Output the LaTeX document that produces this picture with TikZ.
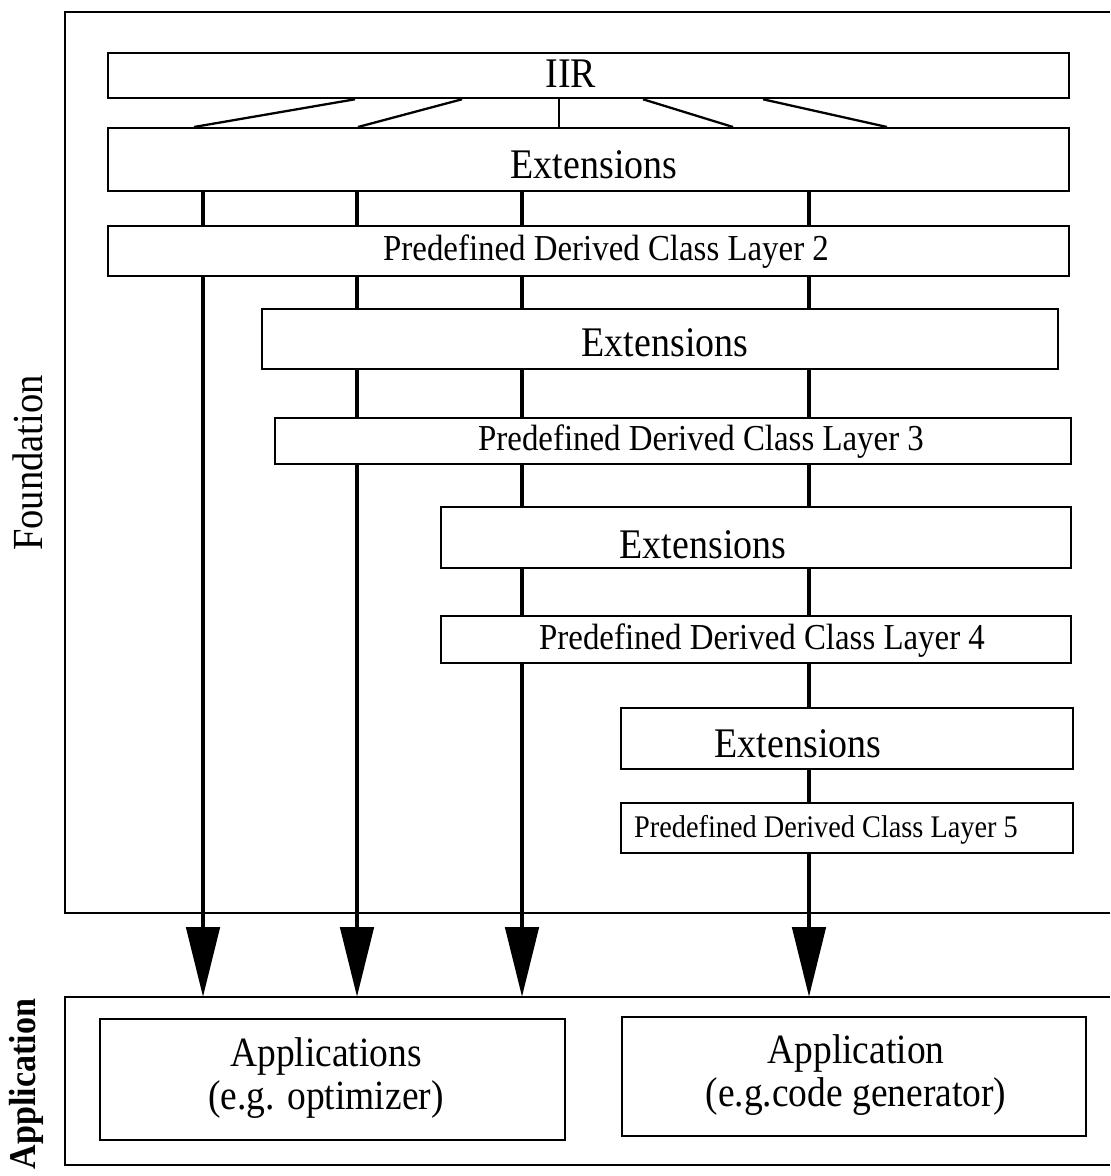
\documentclass[tikz,border=0pt]{standalone}
\usepackage{fontspec}
\setmainfont{Liberation Serif}[FakeStretch=0.9]
\usetikzlibrary{arrows.meta,calc}
\begin{document}
\begin{tikzpicture}[x=0.02cm,y=-0.02cm,
  box/.style={draw,line width=1.3pt,inner sep=0pt,anchor=north west},
  frame/.style={line width=1.4pt},
  fan/.style={line width=1.3pt},
  conn/.style={line width=2.8pt},
  arr/.style={line width=2.8pt,-{Triangle[length=1.4cm,width=0.66cm]}},
  bigtxt/.style={font=\fontsize{24}{26}\selectfont},
  midtxt/.style={font=\fontsize{20.8}{23}\selectfont},
  smalltxt/.style={font=\fontsize{17.9}{20}\selectfont},
  apptxt/.style={font=\fontsize{23.7}{24.6}\selectfont,align=center}]
\fill[white] (0,0) rectangle (1110,1176);
\useasboundingbox (0,0) rectangle (1110,1176);
% frames
\draw[frame] (1110,12) -- (65,12) -- (65,913) -- (1110,913);
\draw[frame] (1110,997) -- (65,997) -- (65,1165) -- (1110,1165);
\coordinate (apptop) at (65,997);
% side labels
\node[rotate=90,font=\fontsize{24.4}{26}\selectfont] (lfound) at (28,463) {Foundation};
\node[rotate=90,font=\fontsize{21.5}{24}\selectfont\bfseries] (lapp) at (26,1084) {Application};
% boxes
\node[box,minimum width=19.22cm,minimum height=0.90cm] (iir) at (107,52) {};
\node[box,minimum width=19.22cm,minimum height=1.26cm] (ext1) at (107,127) {};
\node[box,minimum width=19.22cm,minimum height=1.00cm] (pd2) at (107,225) {};
\node[box,minimum width=15.92cm,minimum height=1.20cm] (ext2) at (261,308) {};
\node[box,minimum width=15.92cm,minimum height=0.92cm] (pd3) at (274,417) {};
\node[box,minimum width=12.60cm,minimum height=1.22cm] (ext3) at (440,506) {};
\node[box,minimum width=12.60cm,minimum height=0.94cm] (pd4) at (440,615) {};
\node[box,minimum width=9.04cm,minimum height=1.22cm] (ext4) at (620,707) {};
\node[box,minimum width=9.04cm,minimum height=1.00cm] (pd5) at (620,802) {};
\node[box,minimum width=9.30cm,minimum height=2.42cm] (appL) at (99,1018) {};
\node[box,minimum width=9.28cm,minimum height=2.38cm] (appR) at (621,1016) {};
% texts
\node[bigtxt] (tiir) at (571,74) {IIR};
\node[bigtxt] (text1) at (594,165) {Extensions};
\node[midtxt] (tpd2) at (606,252) {Predefined Derived Class Layer 2};
\node[bigtxt] (text2) at (665,343) {Extensions};
\node[midtxt] (tpd3) at (701,442) {Predefined Derived Class Layer 3};
\node[bigtxt] (text3) at (703,545) {Extensions};
\node[midtxt] (tpd4) at (762,641) {Predefined Derived Class Layer 4};
\node[bigtxt] (text4) at (798,744) {Extensions};
\node[smalltxt] (tpd5) at (826,830) {Predefined Derived Class Layer 5};
\node[apptxt] (tappL) at (326,1078) {Applications\\(e.g. optimizer)};
\node[apptxt] (tappR) at (856,1075) {Application\\(e.g.code generator)};
% fan lines from IIR to Extensions
\foreach \a/\b [count=\i] in {355/194,462/358,559/559,643/733,763/887}{
  \coordinate (fu\i) at (\a,0);
  \coordinate (fl\i) at (\b,0);
  \draw[fan] (iir.south -| fu\i) -- (ext1.north -| fl\i);
}
% columns
\coordinate (a1) at (203,0);
\coordinate (a2) at (357,0);
\coordinate (a3) at (522,0);
\coordinate (a4) at (809,0);
\draw[conn] (ext1.south -| a1) -- (pd2.north -| a1);
\draw[arr] (pd2.south -| a1) -- (apptop -| a1);
\foreach \u/\v in {ext1/pd2,pd2/ext2,ext2/pd3}
  \draw[conn] (\u.south -| a2) -- (\v.north -| a2);
\draw[arr] (pd3.south -| a2) -- (apptop -| a2);
\foreach \u/\v in {ext1/pd2,pd2/ext2,ext2/pd3,pd3/ext3,ext3/pd4}
  \draw[conn] (\u.south -| a3) -- (\v.north -| a3);
\draw[arr] (pd4.south -| a3) -- (apptop -| a3);
\foreach \u/\v in {ext1/pd2,pd2/ext2,ext2/pd3,pd3/ext3,ext3/pd4,pd4/ext4,ext4/pd5}
  \draw[conn] (\u.south -| a4) -- (\v.north -| a4);
\draw[arr] (pd5.south -| a4) -- (apptop -| a4);
\end{tikzpicture}
\end{document}
